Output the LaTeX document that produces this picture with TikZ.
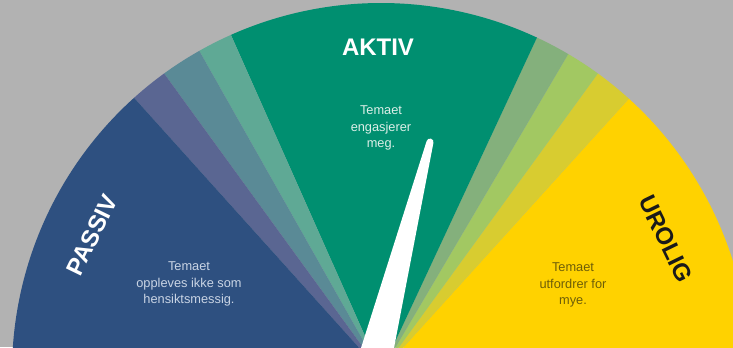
\documentclass[tikz,border=0pt]{standalone}
\usepackage{fontspec}
\setmainfont{Liberation Sans}
\definecolor{bg}{HTML}{B2B2B2}
\definecolor{cyel}{HTML}{FFD200}
\definecolor{colive}{HTML}{D8CC30}
\definecolor{clgreen}{HTML}{A2C862}
\definecolor{csage}{HTML}{84B07C}
\definecolor{cgreen}{HTML}{008F70}
\definecolor{cltteal}{HTML}{5FA995}
\definecolor{csteel}{HTML}{5A8A96}
\definecolor{cpurple}{HTML}{5A6692}
\definecolor{cblue}{HTML}{2E5080}
\definecolor{tgreen}{HTML}{DCEFE8}
\definecolor{tblue}{HTML}{C9D4E4}
\definecolor{tyel}{HTML}{6E5E08}
\definecolor{tdark}{HTML}{1A1A1A}
\begin{document}
\begin{tikzpicture}[x=0.75pt,y=0.75pt,
  head/.style={font=\bfseries\fontsize{18}{20}\selectfont, inner sep=0pt},
  body/.style={font=\fontsize{9.6}{12.4}\selectfont, align=center, inner sep=0pt}]
\fill[bg] (0,0) rectangle (733,347);
\useasboundingbox (0,0) rectangle (733,347);
\begin{scope}
  \clip (0,0) rectangle (733,347);
  \coordinate (O) at (381,-25);
  \foreach \a/\b/\c in {-10/47.8/cyel, 47.8/54/colive, 54/59.5/clgreen, 59.5/65/csage, 65/114/cgreen, 114/119.5/cltteal, 119.5/126/csteel, 126/132/cpurple, 132/190/cblue}
    \fill[\c] (O) -- ++(\a:369) arc[start angle=\a, end angle=\b, radius=369] -- cycle;
  \fill[white] (361,-1) -- (394,-1) -- (433.4,204.1) arc[start angle=-14.4, end angle=165.6, radius=3.5] -- cycle;
\end{scope}
\node[head, text=white] (aktiv) at (378,300) {AKTIV};
\node[head, text=white, rotate=64] (passiv) at (92,112) {PASSIV};
\node[head, text=tdark, rotate=-64] (urolig) at (666,108) {UROLIG};
\node[body, text=tgreen] (taktiv) at (381,219) {Temaet\\engasjerer\\meg.};
\node[body, text=tblue] (tpassiv) at (189,63) {Temaet\\oppleves ikke som\\hensiktsmessig.};
\node[body, text=tyel] (turolig) at (573,62) {Temaet\\utfordrer for\\mye.};
\end{tikzpicture}
\end{document}
